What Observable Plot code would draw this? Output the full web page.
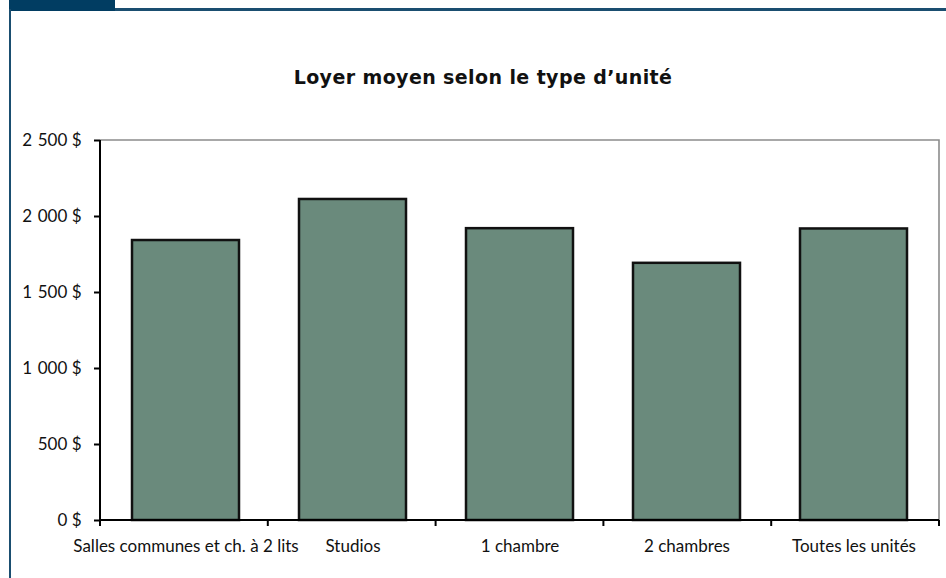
<!DOCTYPE html>
<html>
<head>
<meta charset="utf-8">
<script src="https://cdn.jsdelivr.net/npm/d3@7"></script>
<script src="https://cdn.jsdelivr.net/npm/@observablehq/plot@0.6"></script>
<style>
  html, body { margin: 0; padding: 0; background: #fff; }
  #wrap { position: relative; width: 946px; height: 578px; overflow: hidden; font-family: Lato, "DejaVu Sans", sans-serif; }
  #tab { position: absolute; left: 9px; top: 0; width: 106px; height: 10.5px; background: #013d62; }
  #topline { position: absolute; left: 115px; top: 8px; width: 831px; height: 2.6px; background: #1a4e70; }
  #leftline { position: absolute; left: 9px; top: 9px; width: 2.2px; height: 569px; background: #1a4e70; }
  #title { position: absolute; left: 0; width: 966px; top: 66px; text-align: center; font-family: "DejaVu Sans", sans-serif; font-weight: bold; font-size: 19px; letter-spacing: 0.4px; line-height: 22px; color: #111; }
  #chart { position: absolute; left: 0; top: 0; }
</style>
</head>
<body>
<div id="wrap">
  <div id="chart"></div>
  <div id="tab"></div>
  <div id="topline"></div>
  <div id="leftline"></div>
  <div id="title">Loyer moyen selon le type d’unité</div>
</div>
<script>
const categories = ["Salles communes et ch. à 2 lits", "Studios", "1 chambre", "2 chambres", "Toutes les unités"];
const values = [1842, 2112, 1920, 1692, 1918];
const yTicks = [0, 500, 1000, 1500, 2000, 2500];

const data = categories.map((c, i) => ({cat: c, value: values[i]}));
const frenchMoney = d => d3.format(",")(d).replace(/,/g, "\u2004") + " $";

// custom mark: gray top/right frame, black left/bottom axis lines, x ticks at band boundaries
function axesFrame(index, scales, values, dims) {
  const {width, height, marginLeft, marginRight, marginTop, marginBottom} = dims;
  const x0 = marginLeft, x1 = width - marginRight, y0 = marginTop, y1 = height - marginBottom;
  const g = d3.create("svg:g");
  g.append("path").attr("d", `M${x0},${y0}H${x1}V${y1}`).attr("fill", "none").attr("stroke", "#8c8c8c").attr("stroke-width", 1.6);
  g.append("path").attr("d", `M${x0},${y0}V${y1}H${x1}`).attr("fill", "none").attr("stroke", "#000").attr("stroke-width", 2);
  const n = categories.length;
  const step = (x1 - x0) / n;
  for (let i = 0; i <= n; i++) {
    const x = x0 + i * step;
    g.append("line").attr("x1", x).attr("x2", x).attr("y1", y1).attr("y2", y1 + 6).attr("stroke", "#000").attr("stroke-width", 2);
  }
  return g.node();
}

const plot = Plot.plot({
  width: 946,
  height: 578,
  marginLeft: 100,
  marginRight: 7,
  marginTop: 140,
  marginBottom: 58,
  style: {fontFamily: "Lato, 'DejaVu Sans', sans-serif", fontSize: "17px", color: "#111", background: "transparent"},
  x: {domain: categories, paddingInner: 0.36, paddingOuter: 0.18, label: null},
  y: {domain: [0, 2500], label: null},
  marks: [
    Plot.barY(data, {x: "cat", y: "value", fill: "#6a8a7c", stroke: "#111", strokeWidth: 2.5}),
    axesFrame,
    Plot.axisY({ticks: yTicks, tickFormat: frenchMoney, tickSize: 6, tickPadding: 13, strokeWidth: 2, stroke: "#000", fontSize: 17}),
    Plot.axisX({tickSize: 0, tickPadding: 19, fontSize: 17})
  ]
});
document.getElementById("chart").appendChild(plot);
</script>
</body>
</html>
